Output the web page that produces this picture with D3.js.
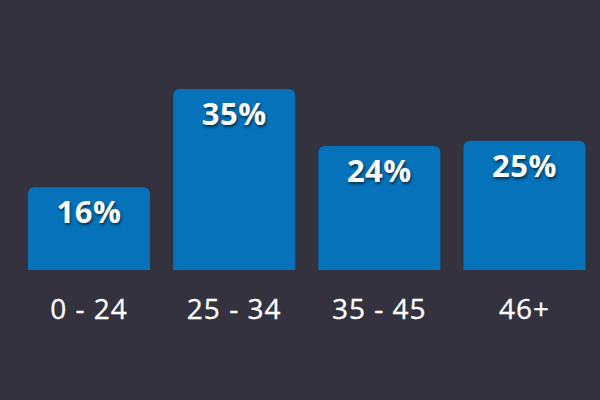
<!DOCTYPE html>
<html>
<head>
<meta charset="utf-8">
<script src="https://cdn.jsdelivr.net/npm/d3@7"></script>
<style>
  html, body { margin: 0; padding: 0; background: #34323f; }
  svg { display: block; }
  .val { font-family: "Open Sans", sans-serif; font-weight: 700; font-size: 31px; fill: #ffffff; letter-spacing: 0.5px; text-shadow: 1px 2px 3px rgba(0,0,0,0.55); }
  .cat { font-family: "Open Sans", sans-serif; font-weight: 400; font-size: 28px; fill: #ffffff; stroke: #ffffff; stroke-width: 0.3px; letter-spacing: 1px; }
</style>
</head>
<body>
<svg id="chart" width="600" height="400"></svg>
<script>
const categories = ["0 - 24", "25 - 34", "35 - 45", "46+"];
const values = [16, 35, 24, 25];
const valueLabels = ["16%", "35%", "24%", "25%"];

const svg = d3.select("#chart");
const W = 600, H = 400;
svg.append("rect").attr("width", W).attr("height", H).attr("fill", "#34323f");

const x = d3.scaleBand().domain(categories).range([28, 585.5]).paddingInner(0.16).paddingOuter(0);
const y = d3.scaleLinear().domain([0, d3.max(values)]).range([270, 89]);

const r = 7;
function barPath(x0, w, yTop, yBot) {
  return `M${x0},${yBot} L${x0},${yTop + r} Q${x0},${yTop} ${x0 + r},${yTop} L${x0 + w - r},${yTop} Q${x0 + w},${yTop} ${x0 + w},${yTop + r} L${x0 + w},${yBot} Z`;
}

const g = svg.append("g");
g.selectAll("path.bar").data(values).join("path")
  .attr("class", "bar")
  .attr("fill", "#0572b9")
  .attr("d", (d, i) => barPath(x(categories[i]), x.bandwidth(), y(d), y(0)));

g.selectAll("text.val").data(values).join("text")
  .attr("class", "val")
  .attr("text-anchor", "middle")
  .attr("x", (d, i) => x(categories[i]) + x.bandwidth() / 2)
  .attr("y", d => y(d) + 36)
  .text((d, i) => valueLabels[i]);

g.selectAll("text.cat").data(categories).join("text")
  .attr("class", "cat")
  .attr("text-anchor", "middle")
  .attr("x", d => x(d) + x.bandwidth() / 2)
  .attr("y", 319)
  .text(d => d);
</script>
</body>
</html>
